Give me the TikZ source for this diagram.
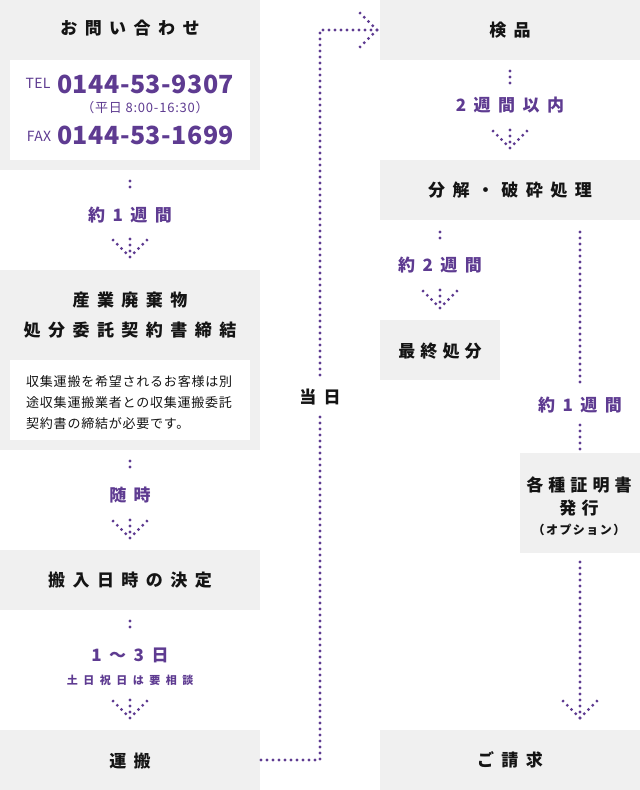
\documentclass[tikz,border=0pt]{standalone}
\usepackage{fontspec}
\setmainfont{Noto Sans CJK JP}
\newfontfamily\ttlf[LetterSpace=44]{Noto Sans CJK JP}
\newfontfamily\ttnf[LetterSpace=30]{Noto Sans CJK JP}
\newfontfamily\smtf[LetterSpace=6]{Noto Sans CJK JP}
\newfontfamily\numf[LetterSpace=2]{Noto Sans CJK JP}
\newfontfamily\subf[LetterSpace=50]{Noto Sans CJK JP}
\newfontfamily\optf[LetterSpace=12]{Noto Sans CJK JP}
\definecolor{pur}{RGB}{94,59,145}
\definecolor{gbg}{RGB}{240,240,240}
\definecolor{ink}{RGB}{20,20,20}
\tikzset{
  gbox/.style={fill=gbg, draw=none, inner sep=0pt, outer sep=0pt, anchor=north west},
  wbox/.style={fill=white, draw=none, inner sep=0pt, outer sep=0pt, anchor=north west},
  ttlt/.style={text=ink, inner sep=0pt, font=\ttlf\bfseries\fontsize{17}{30}\selectfont, align=center},
  ttln/.style={text=ink, inner sep=0pt, font=\ttnf\bfseries\fontsize{17}{23}\selectfont, align=center},
  labt/.style={text=pur, inner sep=0pt, font=\ttlf\bfseries\fontsize{17}{20}\selectfont},
  labs/.style={text=pur, inner sep=0pt, font=\subf\bfseries\fontsize{11}{13}\selectfont},
  dotl/.style={draw=pur, line width=3.1pt, line cap=round, dash pattern=on 0pt off 6pt},
  dhead/.pic={\draw[dotl] (0,0) -- (-18,-18) (0,0) -- (18,-18) (0,0) -- (0,-20);}
}
\begin{document}
\begin{tikzpicture}[x=1pt,y=-1pt]
\useasboundingbox (0,0) rectangle (640,790);
% ---------- left column ----------
\node[gbox, minimum width=260pt, minimum height=170pt] (contact) at (0,0) {};
\node[ttlt] (tcontact) at (130,28) {お問い合わせ};
\node[wbox, minimum width=240pt, minimum height=100pt] (phone) at (10,60) {};
\node[text=pur, inner sep=0pt, anchor=base, font=\numf\fontsize{14}{14}\selectfont] (tel) at (38,88) {TEL};
\node[text=pur, inner sep=0pt, anchor=base west, font=\numf\bfseries\fontsize{25}{25}\selectfont] (telno) at (57,93) {0144-53-9307};
\node[text=pur, inner sep=0pt, font=\smtf\fontsize{13}{13}\selectfont] (hours) at (145,108) {（平日 8:00-16:30）};
\node[text=pur, inner sep=0pt, anchor=base, font=\numf\fontsize{14}{14}\selectfont] (fax) at (39,141) {FAX};
\node[text=pur, inner sep=0pt, anchor=base west, font=\numf\bfseries\fontsize{25}{25}\selectfont] (faxno) at (57,144) {0144-53-1699};

\node[labt] (l1) at (130,215) {約1週間};

\node[gbox, minimum width=260pt, minimum height=180pt] (contract) at (0,270) {};
\node[ttlt] (tcontract) at (130,315) {産業廃棄物\\処分委託契約書締結};
\node[wbox, minimum width=240pt, minimum height=80pt] (note) at (10,360) {};
\node[text=ink, inner sep=0pt, anchor=west, align=left, font=\smtf\fontsize{13}{21}\selectfont] (tnote) at (26,403)
  {収集運搬を希望されるお客様は別\\途収集運搬業者との収集運搬委託\\契約書の締結が必要です。};

\node[labt] (l2) at (130,495) {随時};

\node[gbox, minimum width=260pt, minimum height=60pt] (date) at (0,550) {};
\node[ttlt] (tdate) at (130,580) {搬入日時の決定};

\node[labt] (l3) at (130,655) {1～3日};
\node[labs] (l3b) at (130,680) {土日祝日は要相談};

\node[gbox, minimum width=260pt, minimum height=60pt] (unpan) at (0,730) {};
\node[ttlt] (tunpan) at (130,761) {運搬};

% ---------- right column ----------
\node[gbox, minimum width=260pt, minimum height=60pt] (kenpin) at (380,0) {};
\node[ttlt] (tkenpin) at (510,30) {検品};

\node[labt] (l4) at (510,105) {2週間以内};

\node[gbox, minimum width=260pt, minimum height=60pt] (bunkai) at (380,160) {};
\node[ttlt] (tbunkai) at (510,190) {分解・破砕処理};

\node[labt] (l5) at (440,265) {約2週間};

\node[gbox, minimum width=120pt, minimum height=60pt] (saishu) at (380,320) {};
\node[ttln] (tsaishu) at (440,351) {最終処分};

\node[labt] (l6) at (580,405) {約1週間};

\node[gbox, minimum width=120pt, minimum height=100pt] (cert) at (520,453) {};
\node[ttln] (tcert) at (579,496) {各種証明書\\発行};
\node[text=ink, inner sep=0pt, font=\optf\bfseries\fontsize{12}{12}\selectfont] (topt) at (579,530) {（オプション）};

\node[gbox, minimum width=260pt, minimum height=60pt] (seikyu) at (380,730) {};
\node[ttlt] (tseikyu) at (510,760) {ご請求};

% ---------- connectors ----------
% contact -> contract
\coordinate (s1a) at (130,181); \coordinate (s1b) at (130,193);
\draw[dotl] (s1a) -- (s1b);
\coordinate (h1) at (130,257);
\pic at (h1) {dhead};
% contract -> date
\coordinate (s2a) at (130,461); \coordinate (s2b) at (130,473);
\draw[dotl] (s2a) -- (s2b);
\coordinate (h2) at (130,538);
\pic at (h2) {dhead};
% date -> unpan
\coordinate (s3a) at (130,621); \coordinate (s3b) at (130,633);
\draw[dotl] (s3a) -- (s3b);
\coordinate (h3) at (130,718);
\pic at (h3) {dhead};
% unpan -> kenpin
\coordinate (c4) at (320,30);
\coordinate (h4) at (377,30);
\draw[dotl] (h4) -- (c4) |- (unpan.east);
\draw[dotl] (h4) -- ++(-18,-18) (h4) -- ++(-18,18);
\node[fill=white, inner sep=0pt, minimum height=36pt, minimum width=44pt, text=ink,
      font=\ttlf\bfseries\fontsize{17}{20}\selectfont] (toujitsu) at (320,397) {当日};
% kenpin -> bunkai
\coordinate (s5a) at (510,71); \coordinate (s5b) at (510,85);
\draw[dotl] (s5a) -- (s5b);
\coordinate (h5) at (510,148);
\pic at (h5) {dhead};
% bunkai -> saishu
\coordinate (s6a) at (440,232); \coordinate (s6b) at (440,244);
\draw[dotl] (s6a) -- (s6b);
\coordinate (h6) at (440,308);
\pic at (h6) {dhead};
% bunkai -> cert
\coordinate (s7a) at (580,232); \coordinate (s7b) at (580,383);
\draw[dotl] (s7a) -- (s7b);
\coordinate (s7c) at (580,425); \coordinate (s7d) at (580,449);
\draw[dotl] (s7c) -- (s7d);
% cert -> seikyu
\coordinate (h8) at (580,718); \coordinate (s8a) at (580,557);
\draw[dotl] (h8) -- (s8a);
\draw[dotl] (h8) -- ++(-18,-18) (h8) -- ++(18,-18);
\end{tikzpicture}
\end{document}
